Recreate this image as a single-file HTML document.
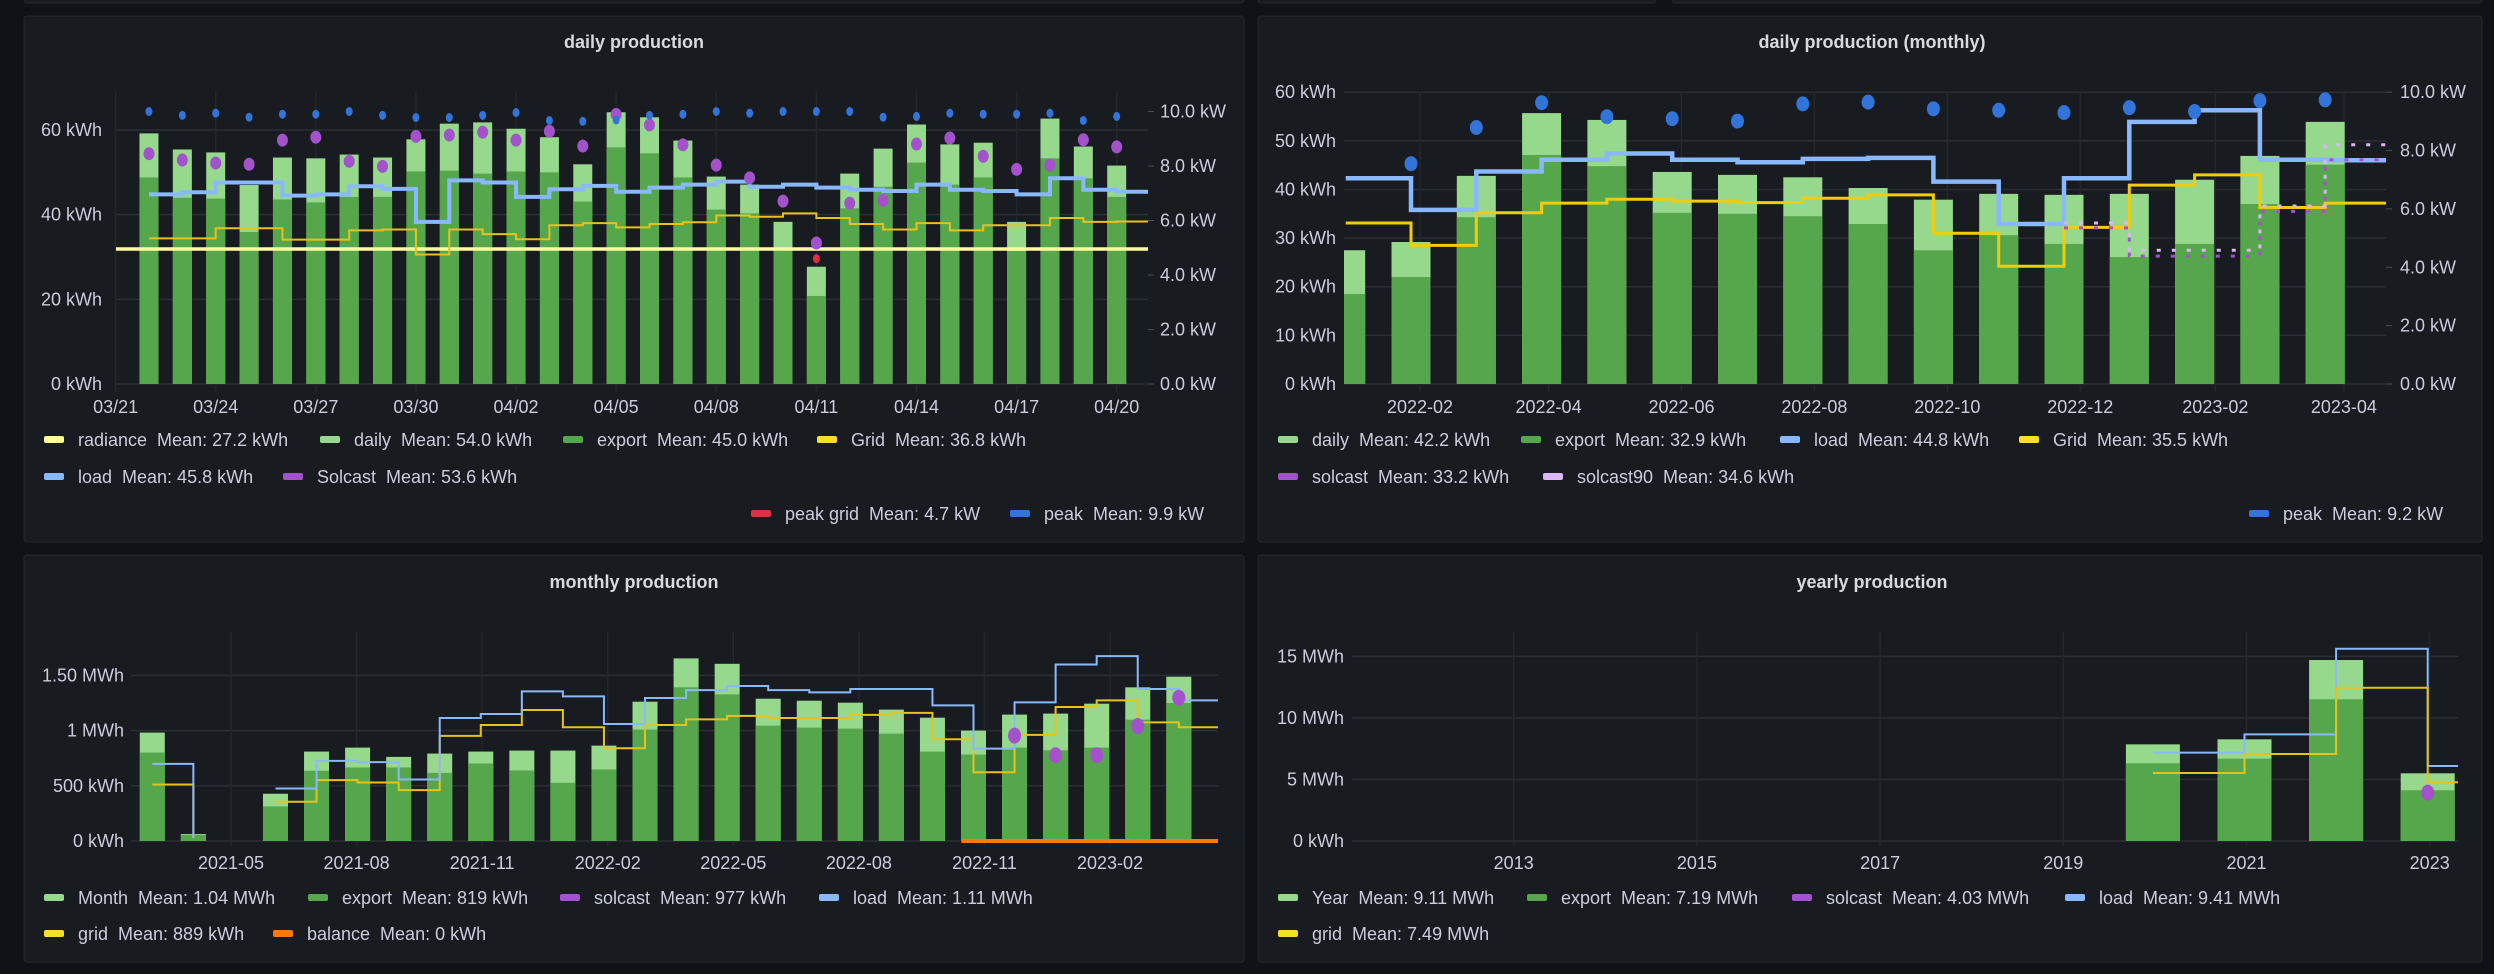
<!DOCTYPE html>
<html><head><meta charset="utf-8"><title>Solar dashboard</title>
<style>
html,body{margin:0;padding:0;background:#111217;}
svg{display:block;font-family:"Liberation Sans",sans-serif;}
.tick{fill:#ccccdc;font-size:18px;}
.title{fill:#d8d9e0;font-size:18px;font-weight:bold;}
.leg{fill:#ccccdc;font-size:18px;white-space:pre;}
</style></head>
<body>
<svg id="root" width="2494" height="974" viewBox="0 0 2494 974">
<rect x="0" y="0" width="2494" height="974" fill="#111217"/>
<rect x="24" y="-20" width="1220" height="23" rx="3" fill="#181b1f" stroke="#26282e"/>
<rect x="1258" y="-20" width="398" height="23" rx="3" fill="#181b1f" stroke="#26282e"/>
<rect x="1672" y="-20" width="810" height="23" rx="3" fill="#181b1f" stroke="#26282e"/>

<g>
<rect x="24" y="16" width="1220" height="526" rx="3" fill="#181b1f" stroke="#26282e"/>
<text class="title" x="634" y="48" text-anchor="middle">daily production</text>
<g id="p1"></g>
<g>
<g><rect x="44" y="436" width="20" height="7" rx="2" fill="#fffb9e"/><text class="leg" x="78" y="446">radiance  Mean: 27.2 kWh</text></g>
<g><rect x="320" y="436" width="20" height="7" rx="2" fill="#96d98d"/><text class="leg" x="354" y="446">daily  Mean: 54.0 kWh</text></g>
<g><rect x="563" y="436" width="20" height="7" rx="2" fill="#56a64b"/><text class="leg" x="597" y="446">export  Mean: 45.0 kWh</text></g>
<g><rect x="817" y="436" width="20" height="7" rx="2" fill="#fade2a"/><text class="leg" x="851" y="446">Grid  Mean: 36.8 kWh</text></g>
<g><rect x="44" y="473" width="20" height="7" rx="2" fill="#8ab8ff"/><text class="leg" x="78" y="483">load  Mean: 45.8 kWh</text></g>
<g><rect x="283" y="473" width="20" height="7" rx="2" fill="#a352cc"/><text class="leg" x="317" y="483">Solcast  Mean: 53.6 kWh</text></g>
<g><rect x="751" y="510" width="20" height="7" rx="2" fill="#e02f44"/><text class="leg" x="785" y="520">peak grid  Mean: 4.7 kW</text></g>
<g><rect x="1010" y="510" width="20" height="7" rx="2" fill="#3274d9"/><text class="leg" x="1044" y="520">peak  Mean: 9.9 kW</text></g>
</g>
</g>

<g>
<rect x="1258" y="16" width="1224" height="526" rx="3" fill="#181b1f" stroke="#26282e"/>
<text class="title" x="1872" y="48" text-anchor="middle">daily production (monthly)</text>
<g id="p2"></g>
<g>
<g><rect x="1278" y="436" width="20" height="7" rx="2" fill="#96d98d"/><text class="leg" x="1312" y="446">daily  Mean: 42.2 kWh</text></g>
<g><rect x="1521" y="436" width="20" height="7" rx="2" fill="#56a64b"/><text class="leg" x="1555" y="446">export  Mean: 32.9 kWh</text></g>
<g><rect x="1780" y="436" width="20" height="7" rx="2" fill="#8ab8ff"/><text class="leg" x="1814" y="446">load  Mean: 44.8 kWh</text></g>
<g><rect x="2019" y="436" width="20" height="7" rx="2" fill="#fade2a"/><text class="leg" x="2053" y="446">Grid  Mean: 35.5 kWh</text></g>
<g><rect x="1278" y="473" width="20" height="7" rx="2" fill="#a352cc"/><text class="leg" x="1312" y="483">solcast  Mean: 33.2 kWh</text></g>
<g><rect x="1543" y="473" width="20" height="7" rx="2" fill="#dcb5f5"/><text class="leg" x="1577" y="483">solcast90  Mean: 34.6 kWh</text></g>
<g><rect x="2249" y="510" width="20" height="7" rx="2" fill="#3274d9"/><text class="leg" x="2283" y="520">peak  Mean: 9.2 kW</text></g>
</g>
</g>

<g>
<rect x="24" y="555" width="1220" height="407" rx="3" fill="#181b1f" stroke="#26282e"/>
<text class="title" x="634" y="588" text-anchor="middle">monthly production</text>
<g id="p3"></g>
<g>
<g><rect x="44" y="894" width="20" height="7" rx="2" fill="#96d98d"/><text class="leg" x="78" y="904">Month  Mean: 1.04 MWh</text></g>
<g><rect x="308" y="894" width="20" height="7" rx="2" fill="#56a64b"/><text class="leg" x="342" y="904">export  Mean: 819 kWh</text></g>
<g><rect x="560" y="894" width="20" height="7" rx="2" fill="#a352cc"/><text class="leg" x="594" y="904">solcast  Mean: 977 kWh</text></g>
<g><rect x="819" y="894" width="20" height="7" rx="2" fill="#8ab8ff"/><text class="leg" x="853" y="904">load  Mean: 1.11 MWh</text></g>
<g><rect x="44" y="930" width="20" height="7" rx="2" fill="#fade2a"/><text class="leg" x="78" y="940">grid  Mean: 889 kWh</text></g>
<g><rect x="273" y="930" width="20" height="7" rx="2" fill="#ff780a"/><text class="leg" x="307" y="940">balance  Mean: 0 kWh</text></g>
</g>
</g>

<g>
<rect x="1258" y="555" width="1224" height="407" rx="3" fill="#181b1f" stroke="#26282e"/>
<text class="title" x="1872" y="588" text-anchor="middle">yearly production</text>
<g id="p4"></g>
<g>
<g><rect x="1278" y="894" width="20" height="7" rx="2" fill="#96d98d"/><text class="leg" x="1312" y="904">Year  Mean: 9.11 MWh</text></g>
<g><rect x="1527" y="894" width="20" height="7" rx="2" fill="#56a64b"/><text class="leg" x="1561" y="904">export  Mean: 7.19 MWh</text></g>
<g><rect x="1792" y="894" width="20" height="7" rx="2" fill="#a352cc"/><text class="leg" x="1826" y="904">solcast  Mean: 4.03 MWh</text></g>
<g><rect x="2065" y="894" width="20" height="7" rx="2" fill="#8ab8ff"/><text class="leg" x="2099" y="904">load  Mean: 9.41 MWh</text></g>
<g><rect x="1278" y="930" width="20" height="7" rx="2" fill="#fade2a"/><text class="leg" x="1312" y="940">grid  Mean: 7.49 MWh</text></g>
</g>
</g>
</svg>
<script>
// ---------- Panel 1: daily production ----------
const p1XTickLabels = ['03/21','03/24','03/27','03/30','04/02','04/05','04/08','04/11','04/14','04/17','04/20'];
const p1YTicks = [0,20,40,60];
const p1RTicks = [0,2,4,6,8,10];
const p1Daily = [59.2,55.4,54.7,47.0,53.5,53.3,54.2,53.5,57.8,61.5,61.8,60.3,58.3,51.9,64.2,63.0,57.5,49.0,47.1,38.3,27.7,49.7,55.6,61.3,56.6,57.0,38.3,62.7,56.1,51.6];
const p1Export = [48.8,44.0,43.8,35.9,43.6,42.9,44.2,44.2,50.2,50.4,49.7,50.2,50.0,43.1,55.9,54.5,48.8,41.2,40.3,31.7,20.8,41.5,46.6,52.3,47.1,48.8,31.4,53.3,48.6,44.2];
const p1Load = [44.8,45.3,47.6,47.6,44.5,44.8,46.7,46.1,38.3,48.1,47.6,44.2,46.0,46.8,45.4,46.4,47.1,47.8,46.6,47.1,46.4,45.9,45.6,47.1,45.9,45.6,44.8,48.6,45.9,45.4];
const p1Grid = [34.4,34.4,36.8,36.8,34.1,34.1,36.3,36.5,30.6,36.5,35.4,34.2,37.5,38.0,37.0,37.8,38.2,39.8,39.5,40.3,39.2,37.8,36.5,38.0,36.3,37.5,37.5,39.2,38.3,38.4];
const p1Radiance = [31.9,31.9];
const p1Solcast = [54.4,52.9,52.2,51.9,57.6,58.3,52.6,51.4,58.5,58.8,59.5,57.6,59.7,56.2,63.7,61.2,56.5,51.7,48.7,43.2,33.3,42.7,43.4,56.7,58.1,53.8,50.7,51.7,57.7,56.0];
const p1Peak = [10.0,9.86,9.94,9.79,9.90,9.90,10.0,9.86,9.78,9.78,9.86,9.96,9.67,9.64,9.69,9.86,9.90,10.0,9.94,10.0,10.0,10.0,9.79,9.82,9.94,9.90,9.90,9.94,9.67,9.82];
const p1PeakGrid = [null,null,null,null,null,null,null,null,null,null,null,null,null,null,null,null,null,null,null,null,4.6,null,null,null,null,null,null,null,null,null];

// ---------- Panel 2: daily production (monthly) ----------
const p2XTickLabels = ['2022-02','2022-04','2022-06','2022-08','2022-10','2022-12','2023-02','2023-04'];
const p2YTicks = [0,10,20,30,40,50,60];
const p2RTicks = [0,2,4,6,8,10];
const p2Daily = [27.5,29.2,42.8,55.7,54.3,43.6,43.0,42.5,40.3,37.9,39.1,38.9,39.1,42.0,46.9,53.9];
const p2Export = [18.5,22.0,34.3,47.1,44.8,35.2,35.0,34.5,32.9,27.5,30.6,28.8,26.1,28.8,37.0,45.1];
const p2Load = [42.3,35.8,43.7,46.1,47.4,46.1,45.6,46.3,46.5,41.6,32.9,42.3,53.9,56.3,46.1,46.0];
const p2Grid = [33.1,28.5,35.2,37.2,38.0,37.6,37.3,38.2,38.9,31.0,24.2,32.2,40.9,43.0,36.3,37.2];
const p2Solcast = [null,null,null,null,null,null,null,null,null,null,null,32.1,26.3,26.3,35.5,46.1];
const p2Solcast90 = [null,null,null,null,null,null,null,null,null,null,null,33.1,27.5,27.5,36.6,49.2];
const p2Peak = [null,7.55,8.79,9.64,9.16,9.09,9.01,9.60,9.66,9.43,9.38,9.30,9.47,9.34,9.71,9.74];

// ---------- Panel 3: monthly production ----------
const p3XTickLabels = ['2021-05','2021-08','2021-11','2022-02','2022-05','2022-08','2022-11','2023-02'];
const p3YTicks = [0,500,1000,1500];
const p3YTickLabels = ['0 kWh','500 kWh','1 MWh','1.50 MWh'];
const p3Month = [982,63,null,428,810,846,762,792,810,819,819,864,1262,1654,1605,1289,1271,1253,1190,1117,1000,1145,1154,1244,1392,1488];
const p3Export = [801,55,null,313,636,666,666,617,702,639,527,648,1009,1392,1328,1045,1027,1018,973,810,783,846,822,846,1099,1250];
const p3Load = [699,30,null,476,726,714,557,1114,1150,1355,1310,1060,1295,1367,1404,1367,1346,1377,1377,1229,837,1256,1599,1675,1377,1274];
const p3Grid = [512,30,null,355,551,530,461,952,1051,1187,1030,840,1051,1102,1133,1114,1114,1142,1160,922,623,961,1214,1274,1075,1030];
const p3Solcast = [null,null,null,null,null,null,null,null,null,null,null,null,null,null,null,null,null,null,null,null,null,955,777,777,1042,1298];
const p3Balance = [null,null,null,null,null,null,null,null,null,null,null,null,null,null,null,null,null,null,null,null,0,0,0,0,0,0];

// ---------- Panel 4: yearly production ----------
const p4XTickLabels = ['2013','2015','2017','2019','2021','2023'];
const p4YTicks = [0,5,10,15];
const p4YTickLabels = ['0 kWh','5 MWh','10 MWh','15 MWh'];
const p4Years = [2020,2021,2022,2023];
const p4Year = [7.85,8.26,14.70,5.50];
const p4Export = [6.31,6.69,11.51,4.12];
const p4Load = [7.18,8.66,15.62,6.09];
const p4Grid = [5.52,7.07,12.45,4.77];
const p4Solcast = [null,null,null,3.93];

const NS = 'http://www.w3.org/2000/svg';
function mk(tag, attrs, parent){
  const el = document.createElementNS(NS, tag);
  for (const k in attrs) el.setAttribute(k, attrs[k]);
  parent.appendChild(el);
  return el;
}
function stepPath(xs, vs, yf, xEnd){
  let d = '';
  let open = false;
  for (let i = 0; i < vs.length; i++){
    if (vs[i] === null || vs[i] === undefined){ open = false; continue; }
    const x = xs(i), y = yf(vs[i]);
    if (!open){ d += 'M' + x + ' ' + y; open = true; }
    else { d += 'V' + y; }
    const nx = (i + 1 < vs.length) ? (vs[i+1] === null ? null : xs(i+1)) : xEnd;
    if (nx !== null) d += 'H' + nx;
  }
  return d;
}
function hGrid(g, ticks, yf, x0, x1, labels, lx){
  ticks.forEach((t, i) => {
    const ln = mk('line', {x1:x0, x2:x1, y1:yf(t), y2:yf(t), stroke:'#2b2e34', 'stroke-width':1.5}, g);
    
    
    const tx = mk('text', {x:lx, y:yf(t)+6, 'text-anchor':'end', class:'tick'}, g);
    tx.textContent = labels[i];
    
    
  });
}
function rAxis(g, ticks, yf, lx, ax){
  ticks.forEach(t => {
    const ln = mk('line', {x1:ax, x2:ax+6, y1:yf(t), y2:yf(t), stroke:'#4a4d55', 'stroke-width':1}, g);
    
    
    const tx = mk('text', {x:lx, y:yf(t)+6, class:'tick'}, g);
    tx.textContent = t.toFixed(1) + ' kW';
    
    
  });
}
function vGrid(g, xs, labels, y0, y1, ly){
  labels.forEach((lab, i) => {
    const x = xs(i);
    const ln = mk('line', {x1:x, x2:x, y1:y0, y2:y1, stroke:'#24272c', 'stroke-width':1.5}, g);
    
    
    const tx = mk('text', {x:x, y:ly, 'text-anchor':'middle', class:'tick'}, g);
    tx.textContent = lab;
    
    
  });
}
function bars(g, xs, vals, yf, w, fill, name){
  vals.forEach((v, i) => {
    if (v === null) return;
    const r = mk('rect', {x:xs(i)-w/2, y:yf(v), width:w, height:yf(0)-yf(v), fill:fill}, g);
    
    
  });
}
function dots(g, xs, vals, yf, rx, ry, fill, name){
  vals.forEach((v, i) => {
    if (v === null) return;
    const c = mk('ellipse', {cx:xs(i), cy:yf(v), rx:rx, ry:ry, fill:fill}, g);
    
    
  });
}
function line(g, d, stroke, w, name, dash){
  const a = {d:d, fill:'none', stroke:stroke, 'stroke-width':w, 'stroke-linejoin':'miter'};
  if (dash) a['stroke-dasharray'] = dash;
  const p = mk('path', a, g);
  
  
  return p;
}

// Panel 1
(function(){
  const g = document.getElementById('p1');
  const y = v => 384 - v * (254/60);
  const yr = k => 384 - k * 27.25;
  const xd = d => 115.6 + d * 33.37;
  const xb = i => xd(i + 1);
  hGrid(g, p1YTicks, y, 116, 1148, p1YTicks.map(t => t + ' kWh'), 102);
  vGrid(g, i => xd(i * 3), p1XTickLabels, 92, 392, 413);
  rAxis(g, p1RTicks, yr, 1160, 1148);
  bars(g, xb, p1Daily, y, 19, '#96d98d', 'daily-bar');
  bars(g, xb, p1Export, y, 19, '#56a64b', 'export-bar');
  line(g, 'M116 ' + y(p1Radiance[0]) + 'H1148', '#fffb9e', 3.5, 'radiance-line');
  line(g, stepPath(xb, p1Grid, y, 1148), '#e5c21e', 2, 'grid-line');
  line(g, stepPath(xb, p1Load, y, 1148), '#8ab8ff', 4, 'load-line');
  dots(g, xb, p1Solcast, y, 5.5, 6.5, '#a352cc', 'solcast-point');
  dots(g, xb, p1Peak, yr, 3.5, 4.5, '#3274d9', 'peak-point');
  dots(g, xb, p1PeakGrid, yr, 3.5, 4.5, '#e02f44', 'peak-grid-point');
})();

// Panel 2
(function(){
  const g = document.getElementById('p2');
  const y = v => 384 - v * (291.8/60);
  const yr = k => 384 - k * 29.18;
  const xb = i => 1345.7 + i * 65.3;
  const xt = i => 1420 + [0,59,120,181,242,303,365,424][i] * 2.179;
  hGrid(g, p2YTicks, y, 1344, 2386, p2YTicks.map(t => t + ' kWh'), 1336);
  vGrid(g, xt, p2XTickLabels, 92, 392, 413);
  rAxis(g, p2RTicks, yr, 2400, 2386);
  const clip = mk('clipPath', {id:'c2'}, g);
  mk('rect', {x:1344, y:80, width:1042, height:310}, clip);
  const cg = mk('g', {'clip-path':'url(#c2)'}, g);
  
  
  bars(cg, xb, p2Daily, y, 39, '#96d98d', 'daily-bar');
  bars(cg, xb, p2Export, y, 39, '#56a64b', 'export-bar');
  line(cg, stepPath(xb, p2Grid, y, 2386), '#f2cc0c', 3, 'grid-line');
  line(cg, stepPath(xb, p2Load, y, 2386), '#8ab8ff', 4.5, 'load-line');
  line(cg, stepPath(xb, p2Solcast90, y, 2386), '#dcb5f5', 3, 'solcast90-line', '4 11');
  line(cg, stepPath(xb, p2Solcast, y, 2386), '#a352cc', 3, 'solcast-line', '4 11');
  dots(cg, xb, p2Peak, yr, 6.5, 7.5, '#3274d9', 'peak-point');
})();

// Panel 3
(function(){
  const g = document.getElementById('p3');
  const y = v => 841 - v * 0.1104;
  const xb = i => 152.3 + i * 41.06;
  const xt = i => 231 + i * 3 * 41.86;
  hGrid(g, p3YTicks, y, 131, 1218, p3YTickLabels, 124);
  vGrid(g, xt, p3XTickLabels, 632, 846, 869);
  bars(g, xb, p3Month, y, 25, '#96d98d', 'month-bar');
  bars(g, xb, p3Export, y, 25, '#56a64b', 'export-bar');
  line(g, stepPath(xb, p3Grid, y, 1218), '#e5c21e', 2, 'grid-line');
  line(g, stepPath(xb, p3Load, y, 1218), '#8ab8ff', 2, 'load-line');
  const bx = i => (i === 20 ? xb(i) - 12 : xb(i));
  line(g, stepPath(bx, p3Balance, y, 1218), '#ff780a', 4, 'balance-line');
  dots(g, xb, p3Solcast, y, 6.5, 8, '#a352cc', 'solcast-point');
})();

// Panel 4
(function(){
  const g = document.getElementById('p4');
  const y = v => 841 - v * 12.31;
  const xy = yr => 2246.5 + (yr - 2021) * 91.6;
  const xb = i => xy(p4Years[i]) - 2;
  hGrid(g, p4YTicks, y, 1352, 2458, p4YTickLabels, 1344);
  vGrid(g, i => xy(2013 + i * 2), p4XTickLabels, 632, 846, 869);
  bars(g, xb, p4Year, y, 54, '#96d98d', 'year-bar');
  bars(g, xb, p4Export, y, 54, '#56a64b', 'export-bar');
  line(g, stepPath(xb, p4Load, y, 2458), '#8ab8ff', 2, 'load-line');
  line(g, stepPath(xb, p4Grid, y, 2458), '#e5c21e', 2, 'grid-line');
  dots(g, xb, p4Solcast, y, 6.5, 8, '#a352cc', 'solcast-point');
})();
</script>
</body></html>
